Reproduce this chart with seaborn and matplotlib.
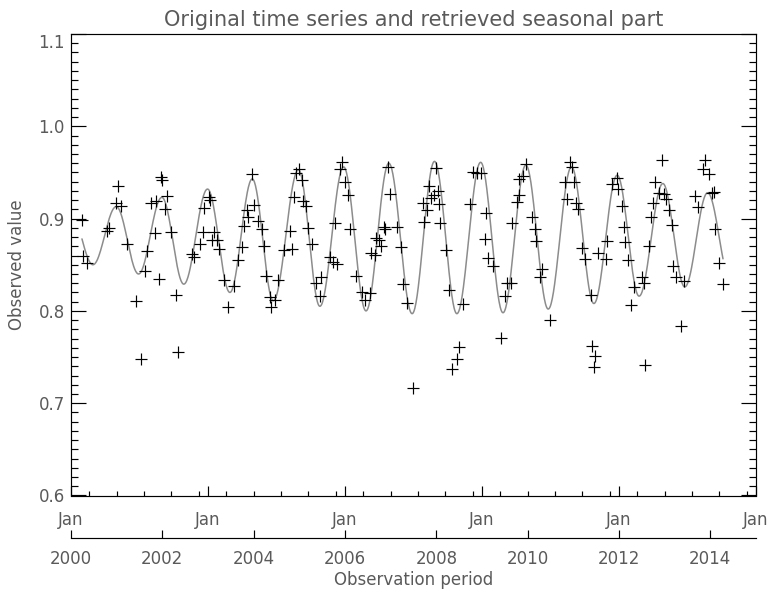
import numpy as np
import pandas as pd
import matplotlib
matplotlib.use("Agg")
import matplotlib.pyplot as plt
import seaborn as sns
from matplotlib.ticker import FixedLocator, MultipleLocator, NullFormatter

# ---------------- data ----------------
obs_time = [
    2000.23, 2000.26, 2000.34, 2000.79, 2000.83, 2000.99, 2001.03, 2001.09, 2001.23, 2001.43,
    2001.53, 2001.63, 2001.66, 2001.75, 2001.83, 2001.87, 2001.92, 2001.96, 2002.00, 2002.05,
    2002.10, 2002.18, 2002.31, 2002.34, 2002.65, 2002.69, 2002.83, 2002.88, 2002.91,
    2003.02, 2003.04, 2003.09, 2003.14, 2003.19, 2003.23, 2003.36, 2003.43, 2003.58, 2003.66,
    2003.74, 2003.79, 2003.85, 2003.87, 2003.97, 2004.01, 2004.10, 2004.19, 2004.23, 2004.26,
    2004.36, 2004.39, 2004.47, 2004.53, 2004.66, 2004.79, 2004.85, 2004.88, 2004.92, 2005.00,
    2005.05, 2005.09, 2005.14, 2005.20, 2005.27, 2005.36, 2005.45, 2005.47, 2005.67, 2005.74,
    2005.78, 2005.82, 2005.89, 2005.93, 2006.00, 2006.06,
    2006.12, 2006.24, 2006.37, 2006.43, 2006.55, 2006.58, 2006.65, 2006.68, 2006.74, 2006.79,
    2006.85, 2006.88, 2006.94, 2006.98, 2007.14, 2007.23, 2007.26, 2007.36, 2007.49, 2007.71,
    2007.74, 2007.80, 2007.85, 2007.89, 2007.94, 2007.99, 2008.04, 2008.06, 2008.09, 2008.21,
    2008.28, 2008.34, 2008.45, 2008.49, 2008.58, 2008.74, 2008.80, 2008.88, 2008.98,
    2009.07, 2009.09, 2009.14, 2009.24, 2009.41, 2009.50, 2009.55, 2009.63, 2009.66, 2009.77,
    2009.81, 2009.82, 2009.90, 2009.97, 2010.09, 2010.16, 2010.19, 2010.28, 2010.32, 2010.49,
    2010.82, 2010.87, 2010.92, 2010.96, 2011.01, 2011.06, 2011.10, 2011.20, 2011.25, 2011.38,
    2011.41, 2011.45, 2011.47, 2011.55, 2011.71, 2011.74, 2011.85, 2011.95, 2011.98,
    2012.06, 2012.11, 2012.14, 2012.19, 2012.26, 2012.33, 2012.50, 2012.55, 2012.57, 2012.65,
    2012.70, 2012.75, 2012.79, 2012.87, 2012.94, 2012.99, 2013.04, 2013.10, 2013.16, 2013.19,
    2013.25, 2013.36, 2013.43, 2013.67, 2013.72, 2013.84, 2013.89, 2013.98, 2014.04, 2014.07,
    2014.11, 2014.19, 2014.28,
]
obs_value = [
    0.899, 0.860, 0.852, 0.887, 0.890, 0.917, 0.935, 0.914, 0.873, 0.811,
    0.748, 0.843, 0.865, 0.917, 0.884, 0.919, 0.835, 0.945, 0.942, 0.910,
    0.924, 0.885, 0.817, 0.756, 0.862, 0.858, 0.872, 0.885, 0.911,
    0.923, 0.920, 0.877, 0.885, 0.877, 0.867, 0.833, 0.804, 0.827, 0.855,
    0.869, 0.892, 0.909, 0.902, 0.948, 0.915, 0.897, 0.889, 0.870, 0.838,
    0.815, 0.804, 0.812, 0.833, 0.866, 0.887, 0.867, 0.923, 0.949, 0.954,
    0.942, 0.919, 0.914, 0.890, 0.873, 0.830, 0.816, 0.837, 0.858, 0.853,
    0.895, 0.851, 0.954, 0.961, 0.940, 0.926,
    0.889, 0.838, 0.820, 0.812, 0.819, 0.863, 0.861, 0.879, 0.877, 0.870,
    0.891, 0.889, 0.956, 0.927, 0.891, 0.869, 0.829, 0.809, 0.717, 0.917,
    0.896, 0.909, 0.935, 0.922, 0.926, 0.955, 0.930, 0.916, 0.895, 0.866,
    0.823, 0.737, 0.748, 0.761, 0.808, 0.916, 0.950, 0.949, 0.949,
    0.878, 0.906, 0.857, 0.849, 0.771, 0.816, 0.830, 0.830, 0.895, 0.918,
    0.926, 0.943, 0.946, 0.959, 0.902, 0.889, 0.876, 0.837, 0.845, 0.790,
    0.940, 0.921, 0.961, 0.956, 0.940, 0.917, 0.910, 0.868, 0.856, 0.817,
    0.762, 0.739, 0.751, 0.863, 0.856, 0.876, 0.938, 0.944, 0.932,
    0.914, 0.891, 0.875, 0.855, 0.806, 0.826, 0.837, 0.830, 0.741, 0.870,
    0.902, 0.917, 0.940, 0.928, 0.964, 0.927, 0.921, 0.909, 0.893, 0.849,
    0.837, 0.784, 0.832, 0.924, 0.913, 0.954, 0.963, 0.948, 0.928, 0.929,
    0.889, 0.852, 0.829,
]

# seasonal part: alternating extrema (peaks / troughs)
ext_time = [
    2000.00, 2000.48, 2000.99, 2001.48, 2001.99, 2002.47, 2002.99, 2003.48, 2003.97, 2004.43,
    2004.98, 2005.45, 2005.97, 2006.46, 2006.96, 2007.47, 2007.96, 2008.45, 2008.97, 2009.46,
    2009.96, 2010.45, 2010.96, 2011.45, 2011.96, 2012.44, 2012.96, 2013.44, 2013.94, 2014.44,
]
ext_value = [
    0.906, 0.850, 0.913, 0.840, 0.923, 0.829, 0.932, 0.820, 0.943, 0.811,
    0.953, 0.805, 0.956, 0.800, 0.960, 0.797, 0.962, 0.797, 0.961, 0.798,
    0.958, 0.802, 0.956, 0.808, 0.947, 0.816, 0.938, 0.826, 0.928, 0.834,
]
curve_start = 2000.23
curve_end = 2014.28

jan_ticks = [2000, 2003, 2006, 2009, 2012, 2015]
jan_labels = ["Jan"] * 6
year_ticks = [2000, 2002, 2004, 2006, 2008, 2010, 2012, 2014]
year_labels = [str(y) for y in year_ticks]
y_ticks = [0.6, 0.7, 0.8, 0.9, 1.0, 1.1]
y_labels = ["0.6", "0.7", "0.8", "0.9", "1.0", "1.1"]

# ---------------- build seasonal curve through the extrema ----------------
ct, cv = [], []
for i in range(len(ext_time) - 1):
    t0, t1 = ext_time[i], ext_time[i + 1]
    v0, v1 = ext_value[i], ext_value[i + 1]
    u = np.linspace(0, 1, 40, endpoint=False)
    ct.extend(t0 + u * (t1 - t0))
    cv.extend((v0 + v1) / 2 + (v0 - v1) / 2 * np.cos(np.pi * u))
ct = np.array(ct)
cv = np.array(cv)
keep = (ct >= curve_start) & (ct <= curve_end)
curve_df = pd.DataFrame({"time": ct[keep], "value": cv[keep]})
obs_df = pd.DataFrame({"time": obs_time, "value": obs_value})

# ---------------- plot ----------------
sns.set_theme(style="white")
plt.rcParams["font.family"] = ["DejaVu Sans"]
TXT = "#5a5a5a"
LW = 0.85

fig = plt.figure(figsize=(7.71, 5.94), dpi=100)
ax = fig.add_axes([71 / 771, 1 - 495.5 / 594, 685 / 771, 461.5 / 594])

sns.lineplot(data=curve_df, x="time", y="value", ax=ax, color="#8c8c8c",
             linewidth=1.1, sort=False)
sns.scatterplot(data=obs_df, x="time", y="value", ax=ax, marker="+",
                color="black", s=85, linewidth=0.85, zorder=3)

ax.set_xlim(2000, 2015)
ax.set_ylim(0.6, 1.1)

for sp in ax.spines.values():
    sp.set_color("black")
    sp.set_linewidth(LW)
    sp.set_visible(True)

ax.xaxis.set_major_locator(FixedLocator(jan_ticks))
ax.set_xticklabels(jan_labels)
ax.xaxis.set_minor_locator(MultipleLocator(0.6))
ax.yaxis.set_major_locator(FixedLocator(y_ticks))
ax.set_yticklabels(y_labels)
ax.yaxis.set_minor_locator(MultipleLocator(0.01))

ax.tick_params(axis="x", which="major", direction="in", length=7.2, width=LW,
               top=True, bottom=True, labelsize=12, labelcolor=TXT, pad=11, color="black")
ax.tick_params(axis="x", which="minor", direction="in", length=3.6, width=LW,
               top=True, bottom=True, color="black")
ax.tick_params(axis="y", which="major", direction="in", length=10.8, width=LW,
               left=True, right=True, labelsize=12, labelcolor=TXT, pad=4.5, color="black")
ax.tick_params(axis="y", which="minor", direction="in", length=5.2, width=LW,
               left=True, right=True, color="black")
ax.yaxis.get_major_ticks()[-1].label1.set_va("top")

ax.set_xlabel("")
ax.set_ylabel("Observed value", fontsize=12, color=TXT)
ax.yaxis.set_label_coords(-0.066, 0.5)
ax.set_title("Original time series and retrieved seasonal part", fontsize=15,
             color=TXT, pad=6)

# secondary year axis below
ax2 = ax.twiny()
ax2.set_xlim(2000, 2015)
ax2.xaxis.set_ticks_position("bottom")
ax2.xaxis.set_label_position("bottom")
ax2.spines["bottom"].set_position(("outward", 30.6))
for name in ["top", "left", "right"]:
    ax2.spines[name].set_visible(False)
ax2.spines["bottom"].set_color("black")
ax2.spines["bottom"].set_linewidth(LW)
ax2.xaxis.set_major_locator(FixedLocator(year_ticks))
ax2.set_xticklabels(year_labels)
ax2.xaxis.set_minor_formatter(NullFormatter())
ax2.tick_params(axis="x", which="major", direction="in", length=6, width=LW,
                labelsize=12, labelcolor=TXT, pad=9, color="black")
ax2.tick_params(axis="x", which="minor", length=0)
ax2.set_xlabel("Observation period", fontsize=12, color=TXT, labelpad=2)

fig.savefig("out.png", dpi=100, facecolor="white")
